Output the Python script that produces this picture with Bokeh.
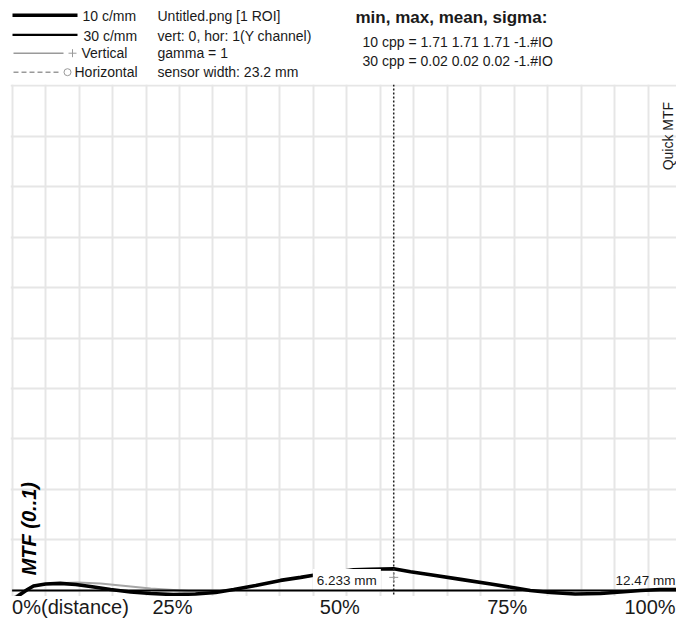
from math import pi
from bokeh.plotting import figure
from bokeh.models import Range1d, FixedTicker, Label, Span
from bokeh.layouts import column
from bokeh.embed import file_html
from bokeh.resources import INLINE

# ---------------- data ----------------
# 10 c/mm curve: position in % of distance, MTF value
pos_10 = [0, 1.2, 2.3, 3.2, 5.0, 7.2, 9.5, 11.7, 14.7, 17.7, 20.7, 24.1, 27.4, 30.4,
          33.1, 36.4, 40.1, 43.1, 45.0, 47.6, 51.0, 53.5, 57.0, 59.5, 62.5, 67.0,
          71.5, 75.2, 77.4, 80.4, 84.1, 87.9, 90.9, 93.9, 96.8, 100]
mtf_10 = [-0.020, -0.008, 0.002, 0.009, 0.013, 0.014, 0.012, 0.008, 0.002, -0.003,
          -0.006, -0.008, -0.007, -0.004, 0.002, 0.010, 0.020, 0.026, 0.030, 0.035,
          0.041, 0.042, 0.043, 0.037, 0.031, 0.022, 0.013, 0.005, 0.000, -0.004,
          -0.007, -0.006, -0.003, 0.000, 0.002, 0.002]
# 30 c/mm curve
pos_30 = [0, 25, 50, 75, 100]
mtf_30 = [0.0, 0.0, 0.0, 0.0, 0.0]
# Vertical (grey) curve
pos_vert = [0, 3.2, 5.7, 9.8, 13.2, 16.2, 20.7, 25.2, 29.7, 33.0]
mtf_vert = [-0.015, 0.010, 0.014, 0.016, 0.014, 0.010, 0.004, 0.000, -0.004, 0.002]
# cursor
cursor_pos = 57.0
cursor_mtf = 0.026

tick_vals = [0, 25, 50, 75, 100]
tick_text = ["0%(distance)", "25%", "50%", "75%", "100%"]
dist_pos = [50, 100]
dist_text = ["6.233 mm", "12.47 mm"]

legend_names = ["10 c/mm", "30 c/mm", "Vertical", "Horizontal"]
info_lines = ["Untitled.png [1 ROI]", "vert: 0, hor: 1(Y channel)", "gamma = 1",
              "sensor width: 23.2 mm"]
stats_title = "min, max, mean, sigma:"
stats_lines = ["10 cpp = 1.71 1.71 1.71 -1.#IO", "30 cpp = 0.02 0.02 0.02 -1.#IO"]

FONT = "Liberation Sans"
TXT = "#1a1a1a"
W = 676
LEFT = 10   # left border shared by all three stacked figures

# ---------------- header ----------------
hdr = figure(width=W, height=84, x_range=Range1d(LEFT, W), y_range=Range1d(84, 0),
             output_backend="svg", toolbar_location=None, title=None,
             x_axis_location=None, y_axis_location=None, min_border_left=LEFT,
             min_border_right=0, min_border_top=0, min_border_bottom=0)
hdr.grid.visible = False
hdr.outline_line_color = None

hdr.line([12, 77], [14.7, 14.7], line_width=3.5, color="black")
hdr.line([12, 77], [34.3, 34.3], line_width=2.2, color="black")
hdr.line([13, 63], [52.7, 52.7], line_width=1.5, color="#9a9a9a")
hdr.scatter([72], [52.7], marker="cross", size=8, color="#9a9a9a")
hdr.line([13, 60], [71.7, 71.7], line_width=1.5, color="#9a9a9a", line_dash="5 3")
hdr.scatter([67], [71.7], marker="circle", size=7, fill_color="white",
            line_color="#9a9a9a")

rows_y = [15, 35, 52, 71]
for xx, yy, t in zip([82, 83, 81, 74], rows_y, legend_names):
    hdr.add_layout(Label(x=xx, y=yy, text=t, text_font=FONT, text_font_size="14px",
                         text_color=TXT, text_baseline="middle"))
for yy, t in zip(rows_y, info_lines):
    hdr.add_layout(Label(x=157, y=yy, text=t, text_font=FONT, text_font_size="14px",
                         text_color=TXT, text_baseline="middle"))
hdr.add_layout(Label(x=355, y=16.5, text=stats_title, text_font=FONT,
                     text_font_size="17px", text_font_style="bold", text_color=TXT,
                     text_baseline="middle"))
for yy, t in zip([41, 60], stats_lines):
    hdr.add_layout(Label(x=362, y=yy, text=t, text_font=FONT, text_font_size="14px",
                         text_color=TXT, text_baseline="middle"))

# ---------------- main plot ----------------
p = figure(width=W, height=512, x_range=Range1d(-0.24, 99.24),
           y_range=Range1d(-0.0119, 1.002), output_backend="svg",
           toolbar_location=None, title=None, x_axis_location=None,
           y_axis_location=None, min_border_left=LEFT, min_border_right=0,
           min_border_top=0, min_border_bottom=0)
p.outline_line_color = None
p.xgrid.ticker = FixedTicker(ticks=list(range(0, 101, 5)))
p.ygrid.ticker = FixedTicker(ticks=[i / 10 for i in range(11)])
p.grid.grid_line_color = "#e6e6e6"
p.grid.grid_line_width = 2

p.line(pos_vert, mtf_vert, line_width=2, color="#a6a6a6")
p.line(pos_10, mtf_10, line_width=3.6, color="black")
flat = p.line(pos_30, mtf_30, line_width=2, color="black")
flat.level = "overlay"

p.add_layout(Span(location=cursor_pos, dimension="height", line_color="#222222",
                  line_width=1.5, line_dash="2 2"))
mk = p.scatter([cursor_pos], [cursor_mtf], marker="cross", size=9, color="#999999")
mk.level = "overlay"

# distance labels: the middle one masks the curve, the last one sits above it
p.add_layout(Label(x=dist_pos[0], y=0.020, text=dist_text[0], text_font=FONT,
                   text_font_size="13.5px", text_color=TXT, text_baseline="middle",
                   text_align="center", background_fill_color="white", padding=4))
p.add_layout(Label(x=dist_pos[1], y=0.020, x_offset=-6, text=dist_text[1],
                   text_font=FONT, text_font_size="13.5px", text_color=TXT,
                   text_baseline="middle", text_align="right"))

p.add_layout(Label(x=98.0, y=0.832, angle=pi / 2, text="Quick MTF", text_font=FONT,
                   text_font_size="14px", text_color=TXT, text_align="left",
                   text_baseline="middle"))
p.add_layout(Label(x=2.45, y=0.030, angle=pi / 2, text="MTF (0..1)", text_font=FONT,
                   text_font_size="20px", text_font_style="bold italic",
                   text_color="black", text_align="left", text_baseline="middle"))

# ---------------- footer with the distance tick labels ----------------
ftr = figure(width=W, height=29, x_range=p.x_range, y_range=Range1d(29, 0),
             output_backend="svg", toolbar_location=None, title=None,
             x_axis_location=None, y_axis_location=None, min_border_left=LEFT,
             min_border_right=0, min_border_top=0, min_border_bottom=0)
ftr.grid.visible = False
ftr.outline_line_color = None
for v, t in zip(tick_vals, tick_text):
    if v == tick_vals[0]:
        al, off = "left", 0
    elif v == tick_vals[-1]:
        al, off = "right", -6
    else:
        al, off = "center", -7
    ftr.add_layout(Label(x=v, y=10, x_offset=off, text=t, text_font=FONT,
                         text_font_size="20px", text_color=TXT, text_align=al,
                         text_baseline="middle"))

layout = column(hdr, p, ftr, spacing=0)
open("out.html", "w").write(file_html(layout, INLINE))
